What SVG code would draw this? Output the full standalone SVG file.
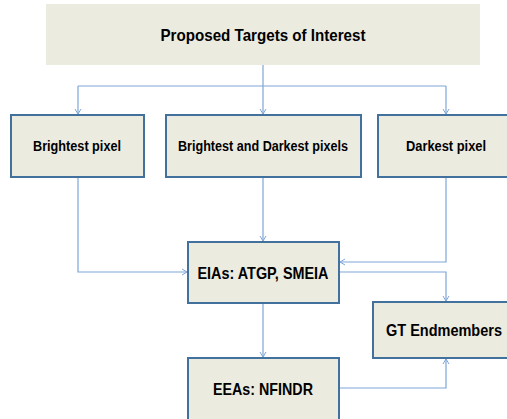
<svg xmlns="http://www.w3.org/2000/svg" width="507" height="419" viewBox="0 0 507 419">
<style>
.box{fill:#ECEBE0;stroke:#41719C;stroke-width:2}
.top{fill:#ECEBE0}
.lbl{font-family:"Liberation Sans",Arial,sans-serif;font-weight:bold;fill:#000;text-anchor:middle}
.c{fill:none;stroke:#7EA6D8;stroke-width:1.2}
</style>
<defs>
<marker id="a" markerWidth="8" markerHeight="8" refX="6" refY="4" orient="auto" markerUnits="userSpaceOnUse">
<path d="M1,1 L6,4 L1,7" fill="none" stroke="#7EA6D8" stroke-width="1"/>
</marker>
</defs>
<rect width="507" height="419" fill="#fff"/>
<g id="connectors">
<path class="c" d="M263,65 V86"/>
<path class="c" d="M78,86 H446"/>
<path class="c" d="M78,86 V114" marker-end="url(#a)"/>
<path class="c" d="M263,86 V114" marker-end="url(#a)"/>
<path class="c" d="M446,86 V114" marker-end="url(#a)"/>
<path class="c" d="M78,178 V272 H187" marker-end="url(#a)"/>
<path class="c" d="M263,178 V241" marker-end="url(#a)"/>
<path class="c" d="M446,178 V262 H340" marker-end="url(#a)"/>
<path class="c" d="M340,272 H446 V301" marker-end="url(#a)"/>
<path class="c" d="M263,304 V357" marker-end="url(#a)"/>
<path class="c" d="M340,388 H446 V359" marker-end="url(#a)"/>
</g>
<g id="n-top">
<rect class="top" x="46" y="4" width="434" height="61"/>
<text class="lbl" x="263" y="41" font-size="16.5" textLength="205" lengthAdjust="spacingAndGlyphs">Proposed Targets of Interest</text>
</g>
<g id="n-bright">
<rect class="box" x="11" y="115" width="133" height="62"/>
<text class="lbl" x="77" y="151" font-size="14" textLength="88" lengthAdjust="spacingAndGlyphs">Brightest pixel</text>
</g>
<g id="n-both">
<rect class="box" x="166" y="115" width="195" height="62"/>
<text class="lbl" x="263" y="151" font-size="14" textLength="170" lengthAdjust="spacingAndGlyphs">Brightest and Darkest pixels</text>
</g>
<g id="n-dark">
<rect class="box" x="378" y="115" width="136" height="62"/>
<text class="lbl" x="446" y="151" font-size="14" textLength="80" lengthAdjust="spacingAndGlyphs">Darkest pixel</text>
</g>
<g id="n-eia">
<rect class="box" x="188" y="242" width="151" height="61"/>
<text class="lbl" x="263" y="279" font-size="16.5" textLength="131" lengthAdjust="spacingAndGlyphs">EIAs: ATGP, SMEIA</text>
</g>
<g id="n-gt">
<rect class="box" x="373" y="302" width="146" height="56"/>
<text class="lbl" x="444" y="336" font-size="16.5" textLength="116" lengthAdjust="spacingAndGlyphs">GT Endmembers</text>
</g>
<g id="n-eea">
<rect class="box" x="188" y="358" width="151" height="62"/>
<text class="lbl" x="263" y="395" font-size="16.5" textLength="100" lengthAdjust="spacingAndGlyphs">EEAs: NFINDR</text>
</g>
</svg>
